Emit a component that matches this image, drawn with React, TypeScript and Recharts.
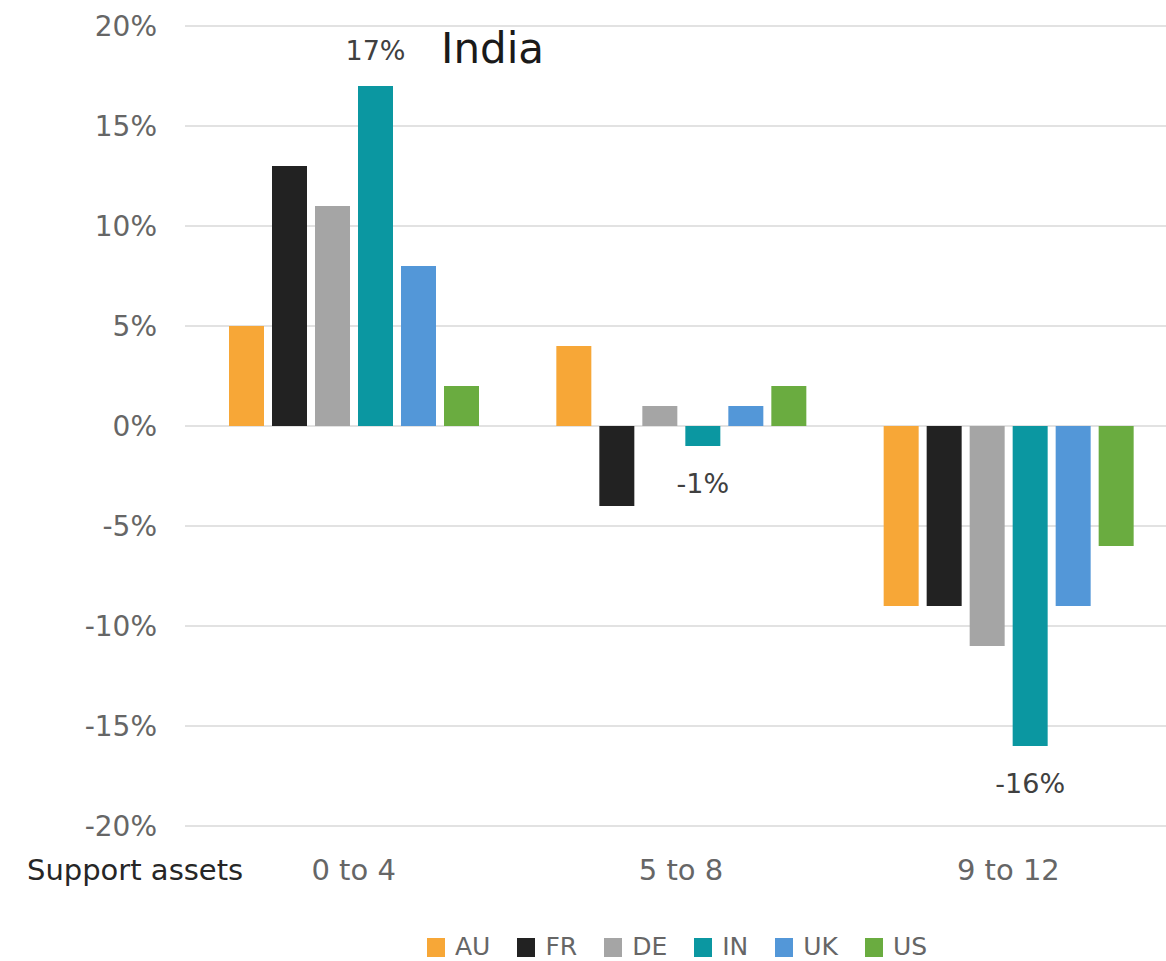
import React from 'react';
import { BarChart, Bar, XAxis, YAxis, CartesianGrid, LabelList, Label } from 'recharts';

const categories = ['0 to 4', '5 to 8', '9 to 12'];
const seriesKeys = ['AU', 'FR', 'DE', 'IN', 'UK', 'US'];
const seriesColors = ['#F7A737', '#222222', '#A5A5A5', '#0B97A1', '#5397D8', '#6AAC40'];
const AU = [5, 4, -9];
const FR = [13, -4, -9];
const DE = [11, 1, -11];
const IN = [17, -1, -16];
const UK = [8, 1, -9];
const US = [2, 2, -6];
const yTicks = [-20, -15, -10, -5, 0, 5, 10, 15, 20];
const xAxisTitle = 'Support assets';
const chartTitle = 'India';

const seriesValues: Record<string, number[]> = { AU, FR, DE, IN, UK, US };
const data = categories.map((c, i) => {
  const row: Record<string, string | number> = { cat: c };
  seriesKeys.forEach((k) => {
    row[k] = seriesValues[k][i];
  });
  return row;
});

const FONT = '"DejaVu Sans", sans-serif';
const fmt = (v: number) => `${v}%`;

const INLabel = (props: any) => {
  const { x, y, width, height, value } = props;
  const top = Math.min(y, y + height);
  const bottom = Math.max(y, y + height);
  const cx = x + width / 2;
  const cy = value >= 0 ? top - 36 : bottom + 37;
  return (
    <text x={cx} y={cy} textAnchor="middle" dominantBaseline="central" fontFamily={FONT} fontSize={27} fill="#404040">
      {fmt(value)}
    </text>
  );
};

export default function App() {
  return (
    <div style={{ position: 'absolute', left: 0, top: 0, width: 1166, height: 961, overflow: 'hidden', background: '#fff', fontFamily: FONT }}>
      <BarChart
        width={1172}
        height={961}
        data={data}
        margin={{ top: 26, right: 0, bottom: 105, left: 0 }}
        barSize={35}
        barGap={8}
      >
        <CartesianGrid vertical={false} stroke="#d9d9d9" strokeWidth={1.5} />
        <XAxis
          dataKey="cat"
          height={30}
          axisLine={false}
          tickLine={false}
          tickSize={0}
          tickMargin={33}
          padding={{ left: 5, right: 0 }}
          tick={{ fontFamily: FONT, fontSize: 29, fill: '#666666' }}
        >
          <Label
            content={() => (
              <text x={27} y={880} fontFamily={FONT} fontSize={29} fill="#262626">
                {xAxisTitle}
              </text>
            )}
          />
        </XAxis>
        <YAxis
          width={185}
          domain={[-20, 20]}
          ticks={yTicks}
          interval={0}
          axisLine={false}
          tickLine={false}
          tickSize={0}
          tickMargin={28}
          tickFormatter={fmt}
          tick={{ fontFamily: FONT, fontSize: 28, fill: '#666666' }}
        >
          <Label
            content={() => (
              <text x={441} y={63} fontFamily={FONT} fontSize={42} fill="#1a1a1a">
                {chartTitle}
              </text>
            )}
          />
        </YAxis>
        {seriesKeys.map((k, i) => (
          <Bar key={k} dataKey={k} fill={seriesColors[i]} isAnimationActive={false}>
            {k === 'IN' ? <LabelList dataKey={k} content={INLabel} /> : null}
          </Bar>
        ))}
      </BarChart>
      <div
        style={{
          position: 'absolute',
          top: 934,
          left: 427,
          height: 26,
          display: 'flex',
          alignItems: 'center',
        }}
      >
        {seriesKeys.map((k, i) => (
          <div key={k} style={{ display: 'flex', alignItems: 'center', marginRight: i < seriesKeys.length - 1 ? 27 : 0 }}>
            <div style={{ width: 18, height: 19, background: seriesColors[i], marginRight: 10 }} />
            <span style={{ fontFamily: FONT, fontSize: 25, color: '#666666', lineHeight: '26px' }}>{k}</span>
          </div>
        ))}
      </div>
    </div>
  );
}
